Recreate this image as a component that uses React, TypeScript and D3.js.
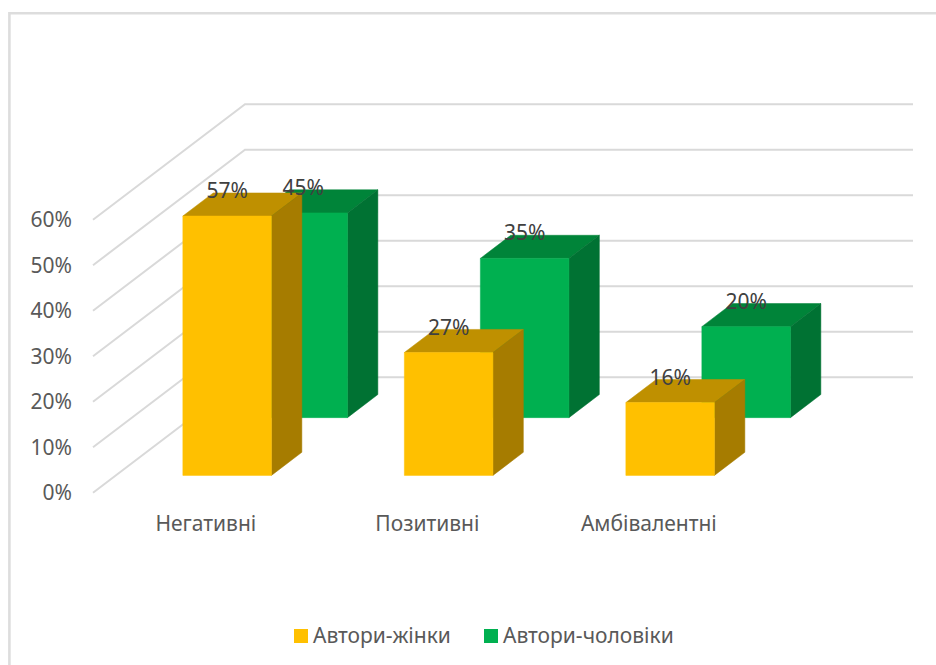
import React from "react";
import * as d3 from "d3";

const categories = ["Негативні", "Позитивні", "Амбівалентні"];
const seriesNames = ["Автори-жінки", "Автори-чоловіки"];
const womenValues = [0.57, 0.27, 0.16];
const menValues = [0.45, 0.35, 0.2];
const axisTicks = [0, 0.1, 0.2, 0.3, 0.4, 0.5, 0.6];

const WIDTH = 936;
const HEIGHT = 665;
const FONT = "'Noto Sans', 'Open Sans', sans-serif";
const TEXT_SIZE = 21;

// Oblique projection: a point is placed by category x, value y and depth z.
const DEPTH_DX = 152;
const DEPTH_DY = -115.5;
const FRONT_LEFT = 93;
const BACK_RIGHT = 913;

const xScale = d3
  .scaleBand<string>()
  .domain(categories)
  .range([FRONT_LEFT + 0.6, 758.1])
  .paddingInner(0.6)
  .paddingOuter(0.3);
const yScale = d3.scaleLinear().domain([0, 0.6]).range([492.7, 219.7]);
const zScale = d3
  .scaleBand<string>()
  .domain(seriesNames)
  .range([0, 1])
  .paddingInner(0.6)
  .paddingOuter(0.3);

const project = (x: number, value: number, z: number): [number, number] => [
  x + z * DEPTH_DX,
  yScale(value) + z * DEPTH_DY,
];
const polygon = (pts: [number, number][]) => d3.line()(pts) + "Z";

const palettes = [
  { front: "#FFC000", top: "#BF9000", side: "#A67C00" },
  { front: "#00B050", top: "#008439", side: "#007233" },
];

function Bar3D({ category, series, value, colors }: {
  category: string;
  series: string;
  value: number;
  colors: { front: string; top: string; side: string };
}) {
  const x0 = xScale(category)!;
  const x1 = x0 + xScale.bandwidth();
  const z0 = zScale(series)!;
  const z1 = z0 + zScale.bandwidth();
  return (
    <g strokeWidth={0.5} strokeLinejoin="round">
      <path
        d={polygon([project(x0, value, z0), project(x1, value, z0), project(x1, value, z1), project(x0, value, z1)])}
        fill={colors.top}
        stroke={colors.top}
      />
      <path
        d={polygon([project(x1, 0, z0), project(x1, value, z0), project(x1, value, z1), project(x1, 0, z1)])}
        fill={colors.side}
        stroke={colors.side}
      />
      <path
        d={polygon([project(x0, 0, z0), project(x1, 0, z0), project(x1, value, z0), project(x0, value, z0)])}
        fill={colors.front}
        stroke={colors.front}
      />
    </g>
  );
}

export default function App() {
  const percent = d3.format(".0%");
  const rows = [
    { name: seriesNames[1], values: menValues, colors: palettes[1] },
    { name: seriesNames[0], values: womenValues, colors: palettes[0] },
  ];
  const legendX = [294, 484];

  return (
    <svg
      width={WIDTH}
      height={HEIGHT}
      viewBox={`0 0 ${WIDTH} ${HEIGHT}`}
      style={{ position: "absolute", left: 0, top: 0, display: "block", background: "#fff" }}
      fontFamily={FONT}
    >
      {/* Chart frame */}
      <path d={`M${WIDTH},13.2H9.4V${HEIGHT}`} fill="none" stroke="#DDDDDD" strokeWidth={2.6} />

      {/* Side wall and back wall gridlines */}
      {axisTicks.map((t) => {
        const a = project(FRONT_LEFT, t, 0);
        const b = project(FRONT_LEFT, t, 1);
        const c: [number, number] = [BACK_RIGHT, b[1]];
        return (
          <path key={t} d={d3.line()([a, b, c])!} fill="none" stroke="#D9D9D9" strokeWidth={2} />
        );
      })}

      {/* Value axis */}
      {axisTicks.map((t) => (
        <text key={t} x={72} y={yScale(t) + 7.5} textAnchor="end" fontSize={TEXT_SIZE} fill="#595959">
          {percent(t)}
        </text>
      ))}

      {/* Category axis */}
      {categories.map((c) => (
        <text key={c} x={xScale(c)! + xScale.bandwidth() / 2 + 1.5} y={531} textAnchor="middle" fontSize={TEXT_SIZE} fill="#595959">
          {c}
        </text>
      ))}

      {/* Bars, rear series first */}
      {rows.map((r) =>
        categories.map((c, i) => (
          <Bar3D key={r.name + c} category={c} series={r.name} value={r.values[i]} colors={r.colors} />
        ))
      )}

      {/* Value labels */}
      {rows.map((r) =>
        categories.map((c, i) => {
          const z = zScale(r.name)!;
          const [px, py] = project(xScale(c)! + xScale.bandwidth() / 2, r.values[i], z);
          return (
            <text key={r.name + c} x={px} y={py - 18} textAnchor="middle" fontSize={TEXT_SIZE} fill="#404040">
              {percent(r.values[i])}
            </text>
          );
        })
      )}

      {/* Legend */}
      {seriesNames.map((name, i) => (
        <g key={name}>
          <rect x={legendX[i]} y={629} width={14} height={14} fill={palettes[i].front} />
          <text x={legendX[i] + 19} y={643} fontSize={TEXT_SIZE} fill="#595959">
            {name}
          </text>
        </g>
      ))}
    </svg>
  );
}
